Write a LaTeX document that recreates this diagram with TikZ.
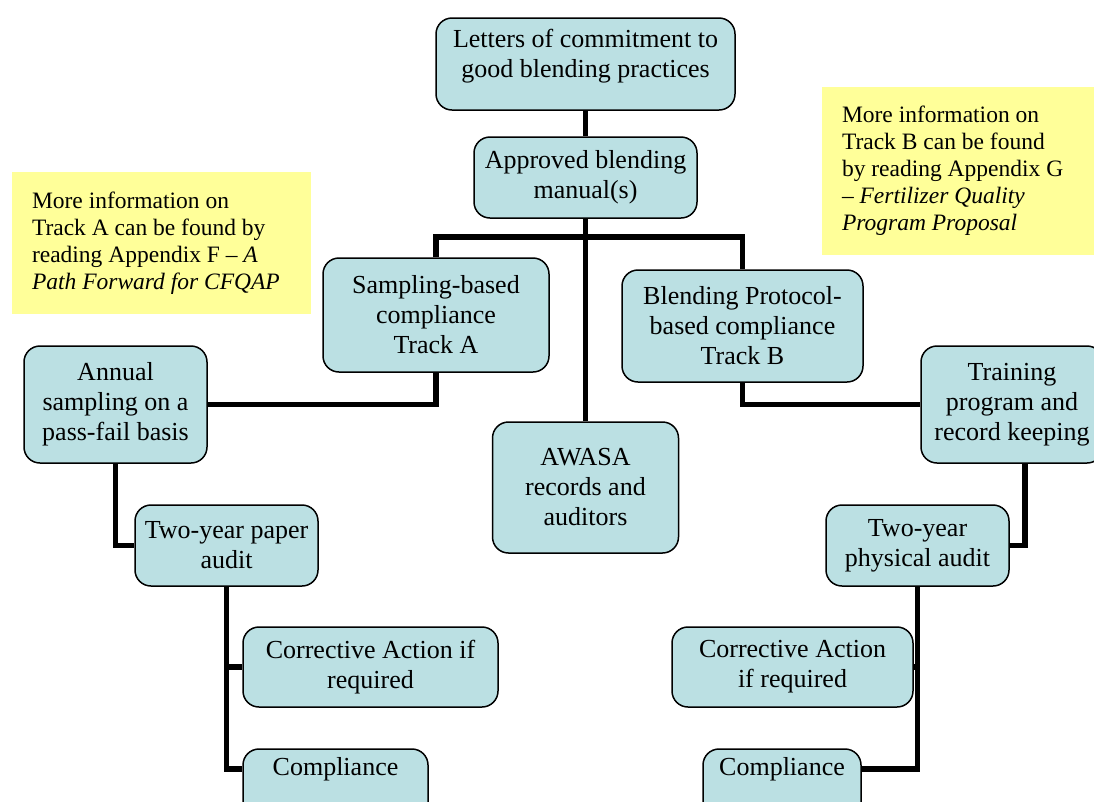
\documentclass[tikz,border=0pt]{standalone}
\usepackage{fontspec}
\setmainfont{Liberation Serif}
\definecolor{boxfill}{HTML}{BBE0E3}
\definecolor{notefill}{HTML}{FFFF99}

\begin{document}
\begin{tikzpicture}[x=1pt,y=-1pt,
    box/.style={draw, line width=1.5pt, fill=boxfill, rounded corners=16pt,
        align=center, inner sep=0pt, font=\fontsize{26}{30}\selectfont},
    note/.style={fill=notefill, align=flush left, inner sep=0pt,
        font=\fontsize{23.5}{27}\selectfont},
    link/.style={line width=5.5pt}]
    \useasboundingbox (0,0) rectangle (1094,801);
    \clip (0,0) rectangle (1094,801);

    % top of the chart
    \node[box, minimum width=299pt, minimum height=92pt] (letters) at (585.5,64)
        {Letters of commitment to\\good blending practices\\[-8pt]};
    \node[box, minimum width=223pt, minimum height=81pt] (manual) at (585.5,177.5)
        {Approved blending\\manual(s)};
    \node[box, minimum width=226pt, minimum height=114pt] (trackA) at (436,315)
        {Sampling-based\\compliance\\Track A};
    \node[box, minimum width=241pt, minimum height=112pt] (trackB) at (742.5,326)
        {Blending Protocol-\\based compliance\\Track B};
    \node[box, minimum width=186pt, minimum height=131pt] (awasa) at (585.5,487.5)
        {AWASA\\records and\\auditors};
    \coordinate (hub) at (585.5,237);

    % Track A
    \node[box, minimum width=183pt, minimum height=117pt] (annual) at (115.5,404.5)
        {Annual\\sampling on a\\pass-fail basis};
    \node[box, minimum width=183pt, minimum height=81pt] (paper) at (226.5,545.5)
        {Two-year paper\\audit};
    \node[box, minimum width=255pt, minimum height=80pt] (correctA) at (370.5,667)
        {Corrective Action if\\required};
    \node[box, minimum width=185pt, minimum height=80pt] (complA) at (335.5,789)
        {\raisebox{20pt}[0.7em][0.2em]{Compliance}};

    % Track B
    \node[box, minimum width=182pt, minimum height=117pt] (training) at (1012,404.5)
        {Training\\program and\\record keeping};
    \node[box, minimum width=183pt, minimum height=81pt] (physical) at (917.5,545.5)
        {Two-year\\physical audit};
    \node[box, minimum width=241pt, minimum height=80pt] (correctB) at (792.5,667)
        {Corrective Action\\if required};
    \node[box, minimum width=158pt, minimum height=80pt] (complB) at (782,789)
        {\raisebox{20pt}[0.7em][0.2em]{Compliance}};

    % notes
    \node[note, minimum width=299pt, minimum height=142pt, text width=259pt] (noteA) at (161.5,243)
        {More information on\\Track A can be found by\\reading Appendix F -- \textit{A}\\\textit{Path Forward for CFQAP}};
    \node[note, minimum width=290pt, minimum height=168pt, text width=250pt] (noteB) at (967,171)
        {More information on\\Track B can be found\\by reading Appendix G\\-- \textit{Fertilizer Quality}\\\textit{Program Proposal}};

    % connectors
    \draw[link] (letters.south) -- (manual.north);
    \draw[link] (manual.south) -- (awasa.north);
    \draw[link] (trackA.north) |- (hub) -| (trackB.north);
    \draw[link] (trackA.south) |- (annual.east);
    \draw[link] (trackB.south) |- (training.west);
    \draw[link] (annual.south) |- (paper.west);
    \draw[link] ([xshift=13pt]training.south) |- (physical.east);
    \draw[link] (paper.south) |- (correctA.west);
    \draw[link] (paper.south) |- ([yshift=20pt]complA.west);
    \draw[link] (physical.south) |- (correctB.east);
    \draw[link] (physical.south) |- ([yshift=20pt]complB.east);
\end{tikzpicture}
\end{document}
